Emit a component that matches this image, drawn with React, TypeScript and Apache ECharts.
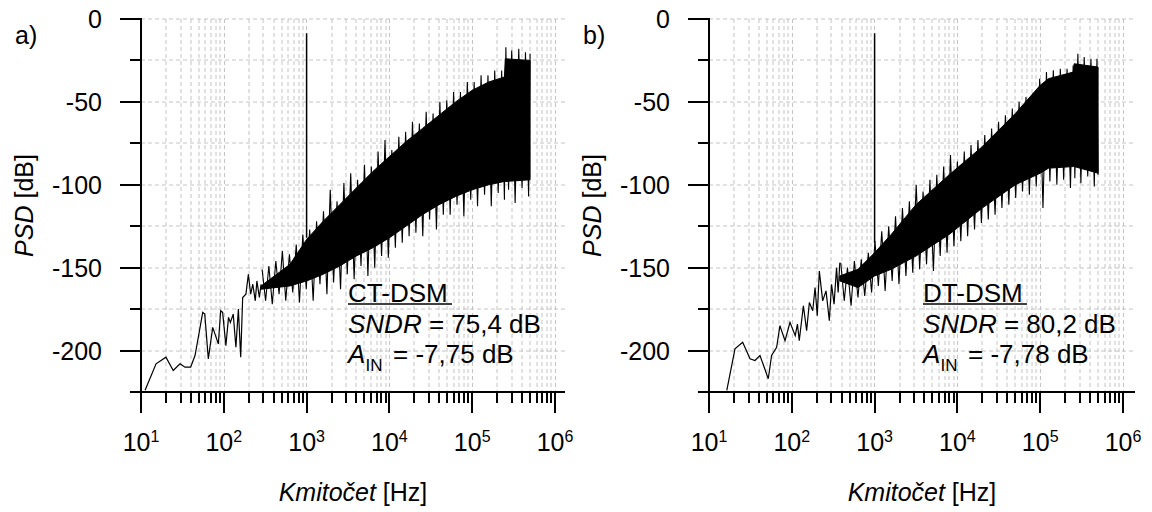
import React, { useEffect, useRef } from "react";
import * as echarts from "echarts";

const FONT = "'Liberation Sans', Arial, Helvetica, sans-serif";
const GRID_COLOR = "#c4c4c4";

// ---------- axis ticks ----------
const xDecades = [10, 100, 1000, 10000, 100000, 1000000];
const yTickValues = [-225, -200, -175, -150, -125, -100, -75, -50, -25, 0];

// ---------- panel a) CT-DSM ----------
const lowFreqA = [11.2, 15.2, 20.0, 24.5, 29.6, 34.0, 39.8, 44.9, 49.2, 55.6, 58.9, 65.0, 73.5, 85.9, 91.6, 96.8, 106, 114, 120, 130, 140, 150, 160, 169, 185, 198, 211, 224, 240, 251, 269, 282];
const lowPsdA = [-224, -208, -204, -212, -208, -210, -210, -203, -192, -177, -178, -205, -186, -196, -176, -177, -197, -180, -183, -178, -198, -175, -204, -168, -166, -154, -166, -160, -170, -158, -168, -160];

// solid core of the noise band (upper / lower edge)
const bandFreqA = [282, 630, 1000, 1585, 2512, 3981, 6310, 10000, 15850, 25120, 39810, 63100, 100000, 158500, 245000, 251000, 500000];
const bandUpperA = [-161, -148, -133, -122, -112, -102, -92, -83, -74, -66, -58, -50, -43, -38, -35, -24, -25];
const bandLowerA = [-163, -161, -158, -154, -149, -143, -138, -132, -125, -118, -112, -107, -103, -100, -98, -98, -97];

// spike tips, alternating top / bottom
const noiseFreqA = [290, 320, 350, 385, 425, 465, 510, 560, 620, 680, 750, 820, 900, 990, 1090, 1200, 1320, 1450, 1600, 1760, 1930, 2120, 2330, 2570, 2820, 3100, 3410, 3750, 4130, 4540, 5000, 5500, 6050, 6650, 7300, 8050, 8850, 9700, 10700, 11800, 13000, 14300, 15700, 17300, 19000, 20900, 23000, 25300, 27800, 30600, 33700, 37000, 40700, 44800, 49300, 54200, 59600, 65600, 72100, 79300, 87300, 96000, 105600, 116000, 128000, 141000, 155000, 170000, 187000, 206000, 227000, 245000, 255000, 275000, 300000, 330000, 365000, 400000, 440000, 480000, 500000];
const noisePsdA = [-151, -170, -149, -172, -146, -166, -140, -170, -142, -165, -136, -171, -130, -163, -127, -170, -122, -160, -116, -166, -103, -159, -110, -163, -99, -154, -93, -157, -97, -149, -88, -155, -89, -150, -80, -143, -73, -144, -79, -138, -71, -135, -68, -131, -62, -129, -63, -131, -56, -121, -57, -127, -50, -118, -49, -118, -44, -112, -44, -119, -38, -109, -38, -113, -34, -106, -34, -113, -31, -105, -31, -109, -17, -103, -19, -111, -18, -102, -20, -107, -21];

const toneFreqA = [1000, 1000];
const tonePsdA = [-132, -8.6];

// ---------- panel b) DT-DSM ----------
const lowFreqB = [16.4, 20.6, 25.5, 31.3, 35.9, 41.3, 52.0, 57.0, 65.6, 71.9, 82.8, 95.1, 110, 117, 123, 138, 151, 163, 179, 191, 203, 215, 236, 259, 284, 302, 324, 347, 363, 380];
const lowPsdB = [-224, -199, -195, -205, -206, -203, -217, -203, -198, -185, -194, -183, -191, -184, -194, -173, -188, -171, -176, -162, -179, -152, -170, -164, -182, -160, -172, -150, -165, -147];

const bandFreqB = [380, 630, 1000, 1585, 3162, 7943, 19950, 50120, 100000, 125900, 251000, 257000, 500000];
const bandUpperB = [-155, -151, -141, -130, -112, -94, -77, -57, -40, -36, -32, -27, -29];
const bandLowerB = [-158, -162, -155, -151, -143, -130, -114, -100, -93, -90, -89, -89, -93];

const noiseFreqB = [390, 430, 470, 520, 570, 630, 690, 760, 840, 920, 1010, 1110, 1220, 1340, 1480, 1630, 1790, 1970, 2170, 2390, 2630, 2890, 3180, 3500, 3850, 4240, 4660, 5130, 5640, 6200, 6820, 7500, 8250, 9080, 9990, 11000, 12100, 13300, 14600, 16100, 17700, 19500, 21400, 23600, 25900, 28500, 31400, 34500, 38000, 41800, 46000, 50600, 55600, 61200, 67300, 74000, 81400, 89600, 98500, 108000, 119000, 131000, 144000, 159000, 175000, 192000, 211000, 232000, 250000, 262000, 285000, 310000, 340000, 375000, 410000, 450000, 485000, 500000];
const noisePsdB = [-147, -170, -150, -173, -146, -168, -145, -167, -141, -165, -134, -161, -128, -164, -125, -158, -119, -160, -114, -155, -110, -153, -100, -151, -104, -148, -97, -152, -94, -143, -89, -141, -82, -137, -86, -134, -80, -131, -76, -127, -73, -123, -70, -121, -66, -118, -62, -114, -58, -112, -54, -108, -50, -104, -47, -106, -45, -101, -36, -114, -32, -98, -31, -100, -30, -97, -30, -102, -28, -96, -21, -99, -23, -95, -24, -101, -24, -94];

const toneFreqB = [1000, 1000];
const tonePsdB = [-135, -8.6];

// ---------- annotation texts ----------
const panelLetters = ["a)", "b)"];
const modelNames = ["CT-DSM", "DT-DSM"];
const sndrTexts = ["= 75,4 dB", "= 80,2 dB"];
const ainTexts = ["= -7,75 dB", "= -7,78 dB"];

// ---------- layout ----------
const GRIDS = [
  { left: 141, top: 19, width: 414, height: 373, ext: 10 },
  { left: 709, top: 19, width: 414, height: 373, ext: 12 },
];

const zip = (xs: number[], ys: number[]) => xs.map((x, i) => [x, ys[i]]);

function lineSeries(gi: number, xs: number[], ys: number[], width: number, z: number) {
  return {
    type: "line",
    xAxisIndex: gi,
    yAxisIndex: gi,
    data: zip(xs, ys),
    symbol: "none",
    showSymbol: false,
    silent: true,
    z,
    lineStyle: { color: "#000", width, join: "miter" },
  };
}

function bandSeries(gi: number, fr: number[], up: number[], lo: number[]) {
  return {
    type: "custom",
    xAxisIndex: gi,
    yAxisIndex: gi,
    silent: true,
    z: 3,
    clip: true,
    data: [[fr[0], up[0]]],
    renderItem: (_params: any, api: any) => {
      const pts: number[][] = [];
      for (let i = 0; i < fr.length; i++) pts.push(api.coord([fr[i], up[i]]));
      for (let i = fr.length - 1; i >= 0; i--) pts.push(api.coord([fr[i], lo[i]]));
      return {
        type: "polygon",
        shape: { points: pts },
        style: { fill: "#000", stroke: "#000", lineWidth: 1 },
      };
    },
  };
}

export default function App() {
  const ref = useRef<HTMLDivElement>(null);

  useEffect(() => {
    if (!ref.current) return;
    const chart = echarts.init(ref.current, undefined, { renderer: "svg" });

    const xAxes = GRIDS.map((_, gi) => ({
      type: "log",
      logBase: 10,
      min: 10,
      max: 1000000,
      gridIndex: gi,
      axisLine: { show: true, onZero: false, lineStyle: { color: "#000", width: 2 } },
      axisTick: { show: false },
      axisLabel: {
        margin: 36,
        color: "#000",
        formatter: (v: number) => `{b|10}{s|${Math.round(Math.log10(v))}}`,
        rich: {
          b: { fontSize: 25, fontFamily: FONT, color: "#000", lineHeight: 28 },
          s: { fontSize: 16, fontFamily: FONT, color: "#000", verticalAlign: "top", lineHeight: 16 },
        },
      },
      splitLine: { show: true, lineStyle: { color: GRID_COLOR, width: 1, type: [4, 3] } },
    }));

    const yAxes = GRIDS.map((_, gi) => ({
      type: "value",
      min: -225,
      max: 0,
      interval: 25,
      gridIndex: gi,
      axisLine: { show: true, onZero: false, lineStyle: { color: "#000", width: 2 } },
      axisTick: { show: false },
      axisLabel: {
        margin: 39,
        color: "#000",
        fontSize: 25,
        fontFamily: FONT,
        formatter: (v: number) => (v % 50 === 0 ? String(v) : ""),
      },
      splitLine: { show: false },
    }));

    chart.setOption({
      animation: false,
      grid: GRIDS.map((g) => ({
        left: g.left,
        top: g.top,
        width: g.width,
        height: g.height,
        containLabel: false,
        outerBoundsMode: "none",
      })),
      xAxis: xAxes,
      yAxis: yAxes,
      series: [
        bandSeries(0, bandFreqA, bandUpperA, bandLowerA),
        lineSeries(0, noiseFreqA, noisePsdA, 1.1, 4),
        lineSeries(0, lowFreqA, lowPsdA, 1.2, 4),
        lineSeries(0, toneFreqA, tonePsdA, 1.5, 5),
        bandSeries(1, bandFreqB, bandUpperB, bandLowerB),
        lineSeries(1, noiseFreqB, noisePsdB, 1.1, 4),
        lineSeries(1, lowFreqB, lowPsdB, 1.2, 4),
        lineSeries(1, toneFreqB, tonePsdB, 1.5, 5),
      ],
    });

    const gfx: any[] = [];
    const L = (x1: number, y1: number, x2: number, y2: number, stroke: string, w: number, dash?: number[], z = 1) =>
      gfx.push({
        type: "line",
        silent: true,
        z,
        shape: { x1, y1, x2, y2 },
        style: { stroke, lineWidth: w, lineDash: dash },
      });
    const T = (x: number, y: number, text: string, extra: any = {}, rot = 0) =>
      gfx.push({
        type: "text",
        silent: true,
        z: 10,
        x,
        y,
        rotation: rot,
        style: {
          text,
          fill: "#000",
          fontSize: 26,
          fontFamily: FONT,
          align: "left",
          verticalAlign: "middle",
          ...extra,
        },
      });

    GRIDS.forEach((g, gi) => {
      const px = (v: number[]) => chart.convertToPixel({ gridIndex: gi }, v) as number[];
      const bottom = px([10, -225])[1];
      const top = px([10, 0])[1];
      const x0 = px([10, -225])[0];
      const xEnd = px([1000000, -225])[0] + g.ext;

      // minor vertical grid + minor ticks
      for (let d = 10; d < 1000000; d *= 10) {
        for (let m = 2; m <= 9; m++) {
          const x = Math.round(px([m * d, -225])[0]);
          L(x, top, x, bottom, GRID_COLOR, 1, [4, 3], 0);
          L(x, bottom, x, bottom + 11, "#000", 2, undefined, 6);
        }
      }
      // major x ticks
      xDecades.forEach((d) => {
        const x = Math.round(px([d, -225])[0]);
        L(x, bottom - 1, x, bottom + 21, "#000", 2, undefined, 6);
      });
      // y grid + ticks
      yTickValues.forEach((v) => {
        const y = Math.round(px([10, v])[1]);
        if (v !== -225) L(x0, y, xEnd, y, GRID_COLOR, 1, [4, 3], 0);
        const len = v % 50 === 0 ? 21 : 11;
        L(x0 - len, y, x0 + 1, y, "#000", 2, undefined, 6);
      });
      // x axis line extension
      L(x0, bottom, xEnd, bottom, "#000", 2, undefined, 6);

      // panel letter
      T(g.left - 126, 35, panelLetters[gi], { fontSize: 25 });
      // axis titles
      T(g.left + (g.width + g.ext) / 2, 492, "{i|Kmitočet}{n| [Hz]}", {
        align: "center",
        rich: {
          i: { fontSize: 25, fontFamily: FONT, fontStyle: "italic", fill: "#000" },
          n: { fontSize: 25, fontFamily: FONT, fill: "#000" },
        },
      });
      T(g.left - 117, (top + bottom) / 2, "{i|PSD}{n| [dB]}", {
        align: "center",
        rich: {
          i: { fontSize: 25, fontFamily: FONT, fontStyle: "italic", fill: "#000" },
          n: { fontSize: 25, fontFamily: FONT, fill: "#000" },
        },
      }, Math.PI / 2);

      // annotation
      const ax = g.left + (gi === 0 ? 207 : 214);
      T(ax, 293, modelNames[gi]);
      L(ax, 304, ax + 104, 304, "#000", 1.6, undefined, 10);
      T(ax, 324, "{i|SNDR}{n| " + sndrTexts[gi] + "}", {
        rich: {
          i: { fontSize: 26, fontFamily: FONT, fontStyle: "italic", fill: "#000" },
          n: { fontSize: 26, fontFamily: FONT, fill: "#000" },
        },
      });
      T(ax, 354, "A", { fontStyle: "italic" });
      T(ax + 17.5, 365, "IN", { fontSize: 17 });
      T(ax + 45, 354, ainTexts[gi]);
    });

    chart.setOption({ graphic: gfx });

    return () => chart.dispose();
  }, []);

  return (
    <div
      ref={ref}
      style={{ position: "fixed", left: 0, top: 0, width: 1152, height: 512, background: "#fff" }}
    />
  );
}
